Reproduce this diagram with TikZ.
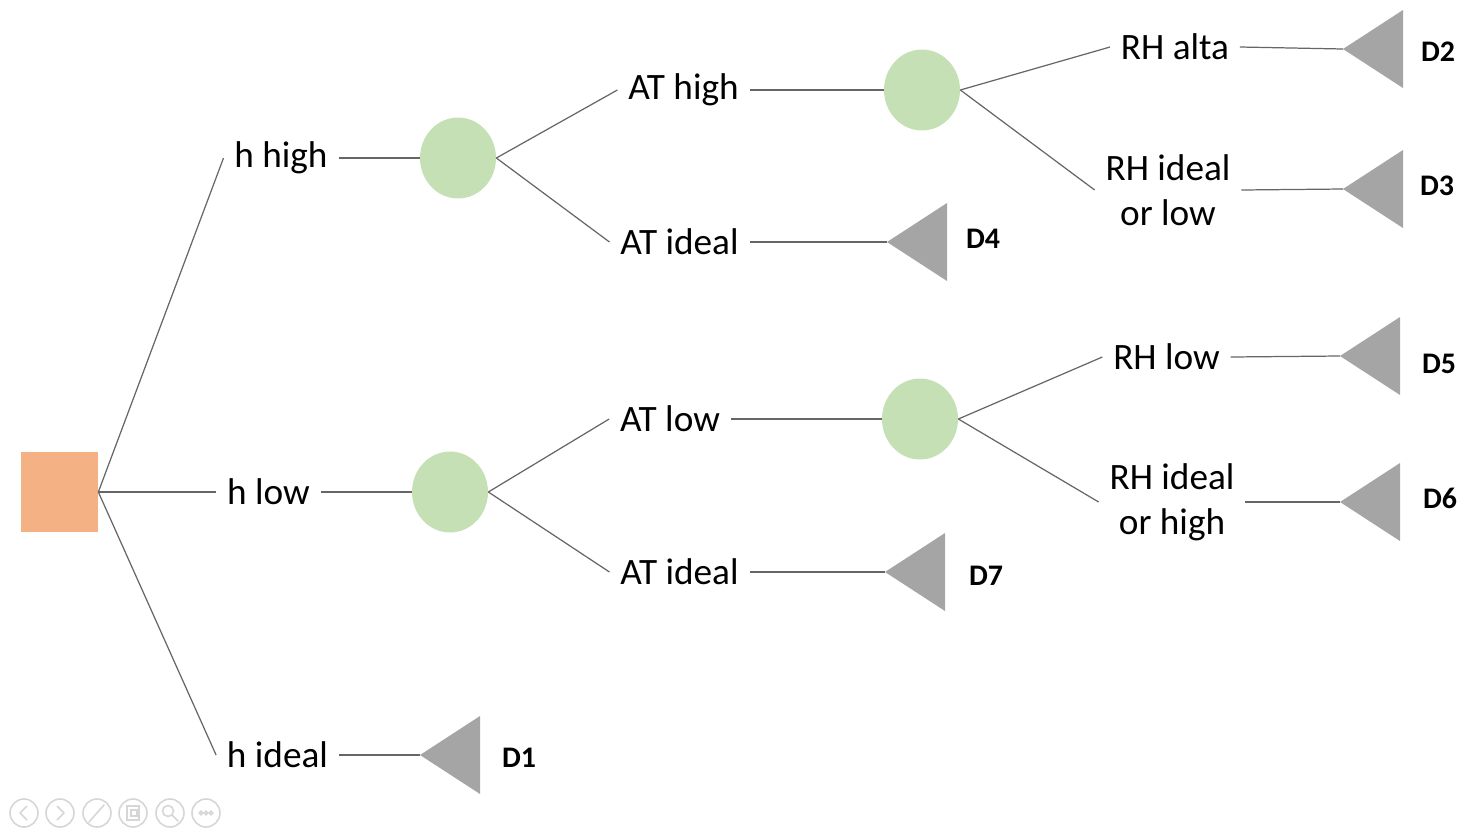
\documentclass[tikz,border=0pt]{standalone}
\usepackage{fontspec}
\setmainfont{Carlito}
\usetikzlibrary{shapes.geometric}
\definecolor{sqorange}{HTML}{F4B183}
\definecolor{chgreen}{HTML}{C5E0B4}
\definecolor{endgray}{HTML}{A5A5A5}
\definecolor{linkgray}{HTML}{666666}
\definecolor{toolgray}{HTML}{D6D6D6}
\tikzset{
  decision/.style={rectangle, fill=sqorange, minimum width=1.54cm, minimum height=1.6cm, inner sep=0pt},
  chance/.style={ellipse, fill=chgreen, minimum width=1.52cm, minimum height=1.62cm, inner sep=0pt},
  lbl/.style={inner xsep=6pt, inner ysep=0pt, align=center, font=\fontsize{21.2}{25.5}\selectfont},
  dlbl/.style={inner sep=0pt, font=\fontsize{17}{20}\selectfont\bfseries},
  link/.style={draw=linkgray, line width=0.7pt},
  endtri/.style={fill=endgray},
  tool/.style={draw=toolgray, line width=0.9pt},
}
\newcommand{\payoffmark}[2]{% apex name, apex position
  \coordinate (#1) at #2;
  \fill[endtri] (#1) -- ++(60,-39) -- ++(0,78) -- cycle;
}
\begin{document}
\begin{tikzpicture}[x=0.02cm, y=-0.02cm]
\useasboundingbox (0,0) rectangle (1477,829);

% root decision and chance nodes
\node[decision] (sq) at (59.5,492) {};
\node[chance] (c1) at (458,158) {};
\node[chance] (c2) at (922,90) {};
\node[chance] (c3) at (450,492) {};
\node[chance] (c4) at (920,419) {};

% branch labels
\node[lbl] (hh) at (281,158) {h high};
\node[lbl] (hl) at (268.5,492) {h low};
\node[lbl] (hi) at (277.5,755) {h ideal};
\node[lbl] (ath) at (683.5,90) {AT high};
\node[lbl] (ati1) at (679.5,242) {AT ideal};
\node[lbl] (atl) at (670,419) {AT low};
\node[lbl] (ati2) at (679.5,572) {AT ideal};
\node[lbl] (rha) at (1175,47) {RH alta};
\node[lbl] (rhil) at (1168,190) {RH ideal\\or low};
\node[lbl] (rhl) at (1166.5,357) {RH low};
\node[lbl] (rhih) at (1172,502) {RH ideal\\or high};

% end points
\payoffmark{d1}{(420,755)}
\payoffmark{d2}{(1343,49)}
\payoffmark{d3}{(1343,189)}
\payoffmark{d4}{(887,242)}
\payoffmark{d5}{(1340,356)}
\payoffmark{d6}{(1340,502)}
\payoffmark{d7}{(885,572)}

\node[dlbl] (D1) at (519,758) {D1};
\node[dlbl] (D2) at (1438,52) {D2};
\node[dlbl] (D3) at (1437,186) {D3};
\node[dlbl] (D4) at (983,239) {D4};
\node[dlbl] (D5) at (1439,364) {D5};
\node[dlbl] (D6) at (1440,498) {D6};
\node[dlbl] (D7) at (986,576) {D7};

% connectors
\draw[link] (sq.east) -- (hh.west);
\draw[link] (sq.east) -- (hl.west);
\draw[link] (sq.east) -- (hi.west);
\draw[link] (hh.east) -- (c1.west);
\draw[link] (hl.east) -- (c3.west);
\draw[link] (hi.east) -- (d1);
\draw[link] (c1.east) -- (ath.west);
\draw[link] (c1.east) -- (ati1.west);
\draw[link] (ath.east) -- (c2.west);
\draw[link] (ati1.east) -- (d4);
\draw[link] (c2.east) -- (rha.west);
\draw[link] (c2.east) -- (rhil.west);
\draw[link] (rha.east) -- (d2);
\draw[link] (rhil.east) -- (d3);
\draw[link] (c3.east) -- (atl.west);
\draw[link] (c3.east) -- (ati2.west);
\draw[link] (atl.east) -- (c4.west);
\draw[link] (ati2.east) -- (d7);
\draw[link] (c4.east) -- (rhl.west);
\draw[link] (c4.east) -- (rhih.west);
\draw[link] (rhl.east) -- (d5);
\draw[link] (rhih.east) -- (d6);

% slide show control buttons
\foreach \cx in {24,60,97,133,170,206} {
  \draw[tool] (\cx,813) circle[radius=0.28cm];
}
\draw[tool, line join=round] (27,806) -- (20,813) -- (27,820);
\draw[tool, line join=round] (57,806) -- (64,813) -- (57,820);
\draw[tool, line cap=round] (89,822) -- (104,805);
\draw[tool] (127,806) rectangle (139,820);
\draw[tool] (131,810) rectangle (137,816);
\draw[tool] (168,811) circle[radius=0.11cm];
\draw[tool, line cap=round] (172,815) -- (178,821);
\foreach \dx in {-5,0,5} { \draw[tool] (206+\dx,813) circle[radius=0.035cm]; }
\end{tikzpicture}
\end{document}
